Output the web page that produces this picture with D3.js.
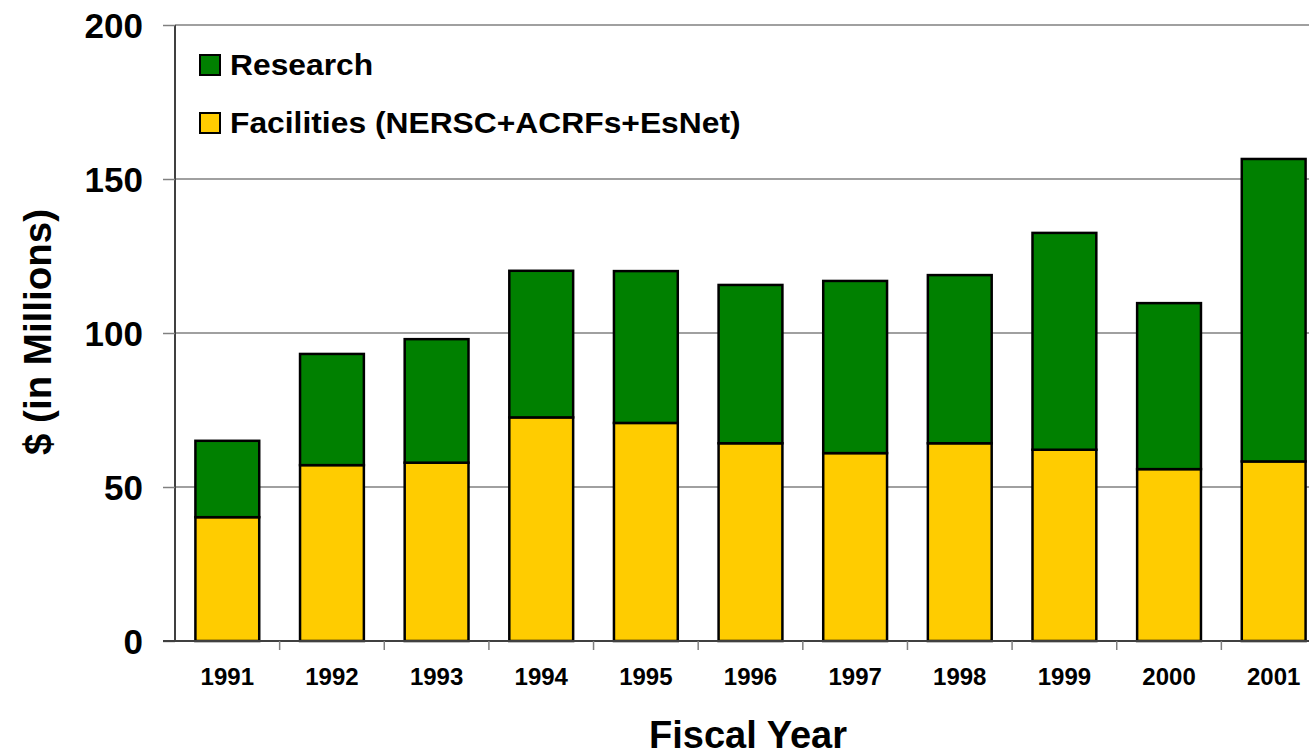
<!DOCTYPE html>
<html>
<head>
<meta charset="utf-8">
<script src="https://cdn.jsdelivr.net/npm/d3@7/dist/d3.min.js"></script>
<style>
  html, body { margin: 0; padding: 0; background: #fff; }
  svg { display: block; }
  text { font-family: "Liberation Sans", Arial, sans-serif; font-weight: bold; fill: #000; }
</style>
</head>
<body>
<svg id="chart" width="1309" height="755"></svg>
<script>
const years = ["1991","1992","1993","1994","1995","1996","1997","1998","1999","2000","2001"];
const facilities = [40.2, 57.1, 57.9, 72.6, 70.8, 64.2, 61.0, 64.2, 62.1, 55.8, 58.3];
const research   = [24.8, 36.1, 40.1, 47.6, 49.3, 51.4, 55.9, 54.6, 70.4, 53.9, 98.2];
const yTicks = [0, 50, 100, 150, 200];
const seriesNames = ["Research", "Facilities (NERSC+ACRFs+EsNet)"];
const seriesColors = ["#008000", "#FFCC00"];

const svg = d3.select("#chart");
const mLeft = 175, mRight = 1326, mTop = 25, mBottom = 641;

const x = d3.scaleBand().domain(years).range([mLeft, mRight]).paddingInner(0.39).paddingOuter(0.195);
const y = d3.scaleLinear().domain([0, 200]).range([mBottom, mTop]);

// gridlines
svg.append("g").selectAll("line").data(yTicks.filter(d => d > 0)).join("line")
  .attr("x1", mLeft).attr("x2", 1309)
  .attr("y1", d => y(d)).attr("y2", d => y(d))
  .attr("stroke", "#808080").attr("stroke-width", 1.5);

// y axis
const yAxis = svg.append("g").attr("transform", `translate(${mLeft},0)`)
  .call(d3.axisLeft(y).tickValues(yTicks).tickSize(12).tickPadding(20));
yAxis.select(".domain").attr("stroke", "#404040").attr("stroke-width", 2).attr("d", `M0,${mTop}V${mBottom}`);
yAxis.selectAll(".tick line").attr("stroke", "#808080").attr("stroke-width", 1.5);
yAxis.selectAll(".tick text").attr("font-size", 35).attr("font-family", "Liberation Sans, Arial, sans-serif")
  .attr("font-weight", "bold").attr("fill", "#000").attr("dy", "0.36em");

// bars
const stackData = years.map((yr, i) => ({ year: yr, facilities: facilities[i], research: research[i] }));
const stack = d3.stack().keys(["facilities", "research"])(stackData);
const colorByKey = { facilities: seriesColors[1], research: seriesColors[0] };
svg.append("g").selectAll("g").data(stack).join("g")
  .attr("fill", d => colorByKey[d.key])
  .selectAll("rect").data(d => d).join("rect")
  .attr("x", d => x(d.data.year))
  .attr("width", x.bandwidth())
  .attr("y", d => y(d[1]))
  .attr("height", d => y(d[0]) - y(d[1]))
  .attr("stroke", "#000").attr("stroke-width", 2.5);

// x axis line and ticks
svg.append("line").attr("x1", mLeft - 12).attr("x2", 1309).attr("y1", mBottom).attr("y2", mBottom)
  .attr("stroke", "#404040").attr("stroke-width", 2);
const step = x.step();
svg.append("g").selectAll("line").data(years.slice(1)).join("line")
  .attr("x1", d => x(d) - step * 0.195).attr("x2", d => x(d) - step * 0.195)
  .attr("y1", mBottom).attr("y2", mBottom + 9)
  .attr("stroke", "#808080").attr("stroke-width", 1.5);

// x labels
svg.append("g").selectAll("text").data(years).join("text")
  .attr("x", d => x(d) + x.bandwidth() / 2)
  .attr("y", 685)
  .attr("text-anchor", "middle")
  .attr("font-size", 24)
  .text(d => d);

// axis titles
svg.append("text").attr("x", 748).attr("y", 748).attr("text-anchor", "middle")
  .attr("font-size", 38).text("Fiscal Year");
svg.append("text").attr("transform", "translate(51,332) rotate(-90)").attr("text-anchor", "middle")
  .attr("font-size", 38.5).text("$ (in Millions)");

// legend
const legend = svg.append("g").selectAll("g").data(seriesNames).join("g")
  .attr("transform", (d, i) => `translate(200,${55 + i * 58})`);
legend.append("rect").attr("width", 20).attr("height", 20)
  .attr("fill", (d, i) => seriesColors[i]).attr("stroke", "#000").attr("stroke-width", 2);
legend.append("text").attr("transform", "translate(30,20) scale(1.06,1)").attr("font-size", 30).text(d => d);
</script>
</body>
</html>
